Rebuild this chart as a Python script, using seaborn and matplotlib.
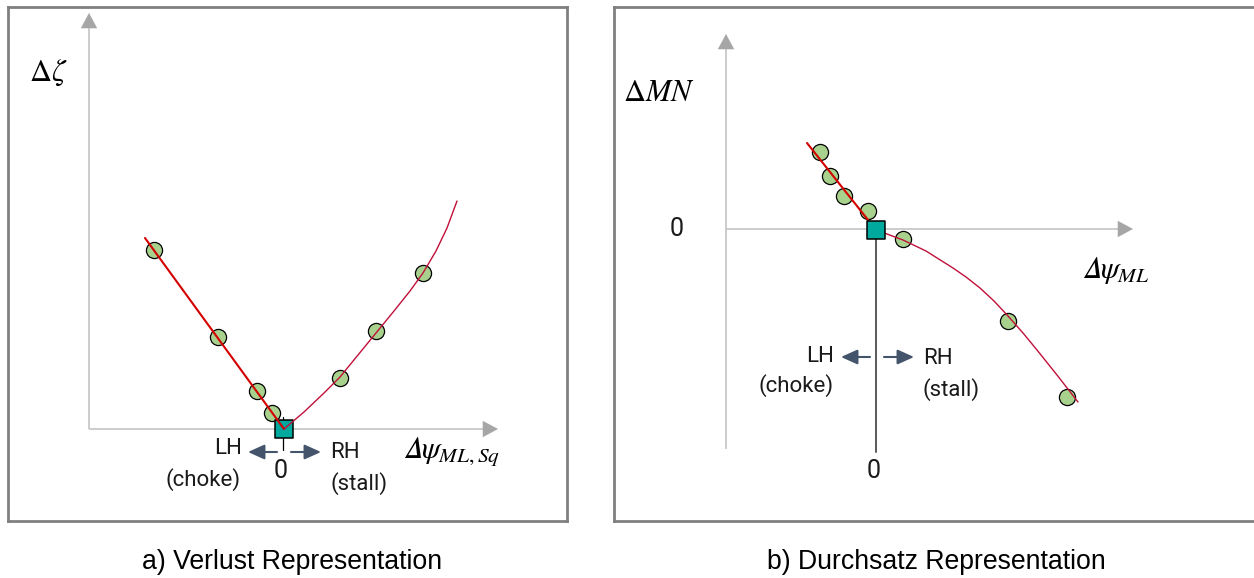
import matplotlib
matplotlib.use("Agg")
import matplotlib.pyplot as plt
import seaborn as sns

# ---------------- data (relative units, origin = operating point) -------------
# panel a) Verlust Representation
a_pts_x = [-1.30, -0.66, -0.27, -0.12, 0.56, 0.92, 1.39]
a_pts_y = [1.79, 0.92, 0.38, 0.16, 0.51, 0.98, 1.56]
a_left_x = [-1.39, 0.0]
a_left_y = [1.91, 0.0]
a_curve_x = [0.0, 0.20, 0.40, 0.56, 0.74, 0.92, 1.10, 1.26, 1.39, 1.52, 1.63, 1.73]
a_curve_y = [0.0, 0.17, 0.36, 0.52, 0.74, 0.96, 1.18, 1.38, 1.56, 1.78, 2.01, 2.28]

# panel b) Durchsatz Representation
b_pts_x = [-0.56, -0.46, -0.32, -0.08, 0.27, 1.32, 1.91]
b_pts_y = [0.78, 0.54, 0.34, 0.19, -0.09, -0.91, -1.67]
b_left_x = [-0.69, 0.0]
b_left_y = [0.87, 0.0]
b_curve_x = [0.0, 0.07, 0.27, 0.50, 0.77, 0.90, 1.04, 1.18, 1.32, 1.47, 1.61, 1.81, 2.02]
b_curve_y = [0.0, -0.025, -0.10, -0.21, -0.38, -0.47, -0.58, -0.71, -0.86, -1.03, -1.20, -1.45, -1.72]

origin_x = [0.0]
origin_y = [0.0]

captions = ["a) Verlust Representation", "b) Durchsatz Representation"]
a_ylabel = r"$\Delta\zeta$"
a_xlabel = "$\U0001D6E5\\psi_{ML,Sq}$"
b_ylabel = r"$\Delta MN$"
b_xlabel = "$\U0001D6E5\\psi_{ML}$"

# ---------------- style ----------------
sns.set_theme(style="white")
plt.rcParams["font.family"] = ["Roboto", "DejaVu Sans"]
plt.rcParams["mathtext.fontset"] = "stix"

PT_GREEN = "#A9D18E"
SQ_TEAL = "#00A99D"
RED_LINE = "#D40000"
RED_CURVE = "#C0103A"
AX_GREY = "#BFBFBF"
HEAD_GREY = "#A6A6A6"
SLATE = "#44546A"
BOX = "#808080"

W, H = 1254, 578
fig = plt.figure(figsize=(W / 100, H / 100), dpi=100)

ax1 = fig.add_axes([8 / W, (H - 521) / H, (567 - 8) / W, (521 - 7) / H])
ax2 = fig.add_axes([614 / W, (H - 521) / H, (1262 - 614) / W, (521 - 7) / H])

for ax in (ax1, ax2):
    ax.set_xticks([])
    ax.set_yticks([])
    for sp in ax.spines.values():
        sp.set_visible(True)
        sp.set_color(BOX)
        sp.set_linewidth(2.0)
    ax.set_facecolor("white")

ax1.set_xlim(-2.76, 2.83)
ax1.set_ylim(-0.92, 4.22)
ax2.set_xlim(-2.62, 3.86)
ax2.set_ylim(-2.91, 2.23)


def axis_arrow(ax, x0, y0, x1, y1, hx, hy):
    ax.plot([x0, hx], [y0, hy], color=AX_GREY, lw=1.1, zorder=1, solid_capstyle="butt")
    ax.annotate("", xy=(x1, y1), xytext=(hx, hy),
                arrowprops=dict(arrowstyle="-|>,head_length=1.08,head_width=0.58",
                                mutation_scale=10, color=HEAD_GREY, lw=0.1,
                                shrinkA=0, shrinkB=0), zorder=1)


def side_arrows(ax, y, l0, l1, r0, r1):
    for s, e in ((l0, l1), (r0, r1)):
        ax.annotate("", xy=(e, y), xytext=(s, y),
                    arrowprops=dict(arrowstyle="-|>,head_length=1.0,head_width=0.45",
                                    mutation_scale=10, color=SLATE, lw=1.5,
                                    shrinkA=0, shrinkB=0), zorder=2)


TXT = dict(fontsize=16, color="#1A1A1A", family=["Roboto", "DejaVu Sans"])
ZERO = dict(fontsize=18, color="#1A1A1A", family=["Roboto", "DejaVu Sans"])
MATH = dict(fontsize=22, color="black")
LINE_KW = dict(sort=False, estimator=None, solid_joinstyle="round")

# ---------------- panel a ----------------
axis_arrow(ax1, -1.95, 0.0, -1.95, 4.16, -1.95, 4.01)
axis_arrow(ax1, -1.95, 0.0, 2.14, 0.0, 1.99, 0.0)
ax1.plot([-0.01, -0.01], [0.12, -0.21], color="black", lw=0.9, zorder=2)
side_arrows(ax1, -0.23, -0.07, -0.36, 0.07, 0.37)

sns.scatterplot(x=a_pts_x, y=a_pts_y, ax=ax1, s=135, color=PT_GREEN,
                edgecolor="black", linewidth=0.9, zorder=3, legend=False)
sns.scatterplot(x=origin_x, y=origin_y, ax=ax1, marker="s", s=150, color=SQ_TEAL,
                edgecolor="black", linewidth=1.1, zorder=3.5, legend=False)
sns.lineplot(x=a_left_x, y=a_left_y, ax=ax1, color=RED_LINE, linewidth=1.5,
             zorder=4, **LINE_KW)
sns.lineplot(x=a_curve_x, y=a_curve_y, ax=ax1, color=RED_CURVE, linewidth=1.0,
             zorder=4, **LINE_KW)

ax1.text(-2.36, 3.56, a_ylabel, ha="center", va="center", **MATH)
ax1.text(1.19, -0.29, a_xlabel, ha="left", va="baseline", **MATH)
ax1.text(-0.42, -0.20, "LH", ha="right", va="center", **TXT)
ax1.text(-0.43, -0.51, "(choke)", ha="right", va="center", **TXT)
ax1.text(-0.03, -0.42, "0", ha="center", va="center", **ZERO)
ax1.text(0.46, -0.23, "RH", ha="left", va="center", **TXT)
ax1.text(0.46, -0.55, "(stall)", ha="left", va="center", **TXT)

# ---------------- panel b ----------------
axis_arrow(ax2, -1.50, -2.19, -1.50, 1.96, -1.50, 1.81)
axis_arrow(ax2, -1.50, 0.01, 2.57, 0.01, 2.42, 0.01)
ax2.plot([0.0, 0.0], [0.0, -2.22], color="#595959", lw=1.4, zorder=2)
side_arrows(ax2, -1.27, -0.06, -0.35, 0.08, 0.38)

sns.scatterplot(x=b_pts_x, y=b_pts_y, ax=ax2, s=135, color=PT_GREEN,
                edgecolor="black", linewidth=0.9, zorder=3, legend=False)
sns.lineplot(x=b_left_x, y=b_left_y, ax=ax2, color=RED_LINE, linewidth=1.5,
             zorder=4, **LINE_KW)
sns.lineplot(x=b_curve_x, y=b_curve_y, ax=ax2, color=RED_CURVE, linewidth=1.0,
             zorder=4, **LINE_KW)
sns.scatterplot(x=origin_x, y=origin_y, ax=ax2, marker="s", s=150, color=SQ_TEAL,
                edgecolor="black", linewidth=1.1, zorder=5, legend=False)

ax2.text(-2.53, 1.29, b_ylabel, ha="left", va="baseline", **MATH)
ax2.text(-1.99, 0.01, "0", ha="center", va="center", **ZERO)
ax2.text(2.06, -0.48, b_xlabel, ha="left", va="baseline", **MATH)
ax2.text(-0.42, -1.26, "LH", ha="right", va="center", **TXT)
ax2.text(-0.42, -1.56, "(choke)", ha="right", va="center", **TXT)
ax2.text(0.47, -1.28, "RH", ha="left", va="center", **TXT)
ax2.text(0.47, -1.60, "(stall)", ha="left", va="center", **TXT)
ax2.text(-0.02, -2.41, "0", ha="center", va="center", **ZERO)

# ---------------- captions ----------------
CAP = dict(ha="center", va="center", fontsize=19.2,
           family=["Liberation Sans", "DejaVu Sans"], color="black")
fig.text(292 / W, 1 - 562 / H, captions[0], **CAP)
fig.text(936 / W, 1 - 562 / H, captions[1], **CAP)

fig.savefig("out.png", dpi=100)
